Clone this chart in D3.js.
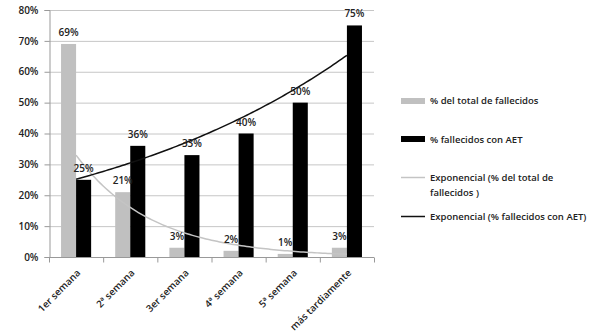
<!DOCTYPE html>
<html><head><meta charset="utf-8">
<script src="https://cdn.jsdelivr.net/npm/d3@7"></script>
<style>body{margin:0;background:#fff}svg{display:block}text{font-family:"Open Sans",Arial,sans-serif}</style>
</head><body>
<svg id="c" width="600" height="332"></svg>
<script>
const categories = ["1er semana","2ª semana","3er semana","4ª semana","5ª semana","más tardiamente"];
const totalFallecidos = [69,21,3,2,1,3];
const fallecidosAET = [25,36,33,40,50,75];
const yTicks = [0,10,20,30,40,50,60,70,80];
const legendLabels = ["% del total de fallecidos","% fallecidos con AET",["Exponencial (% del total de","fallecidos )"],"Exponencial (% fallecidos con AET)"];

const svg = d3.select("#c");
const x0 = 49, x1 = 374, yTop = 10, yBot = 257;
const x = d3.scaleBand().domain(categories).range([x0,x1]).paddingInner(0).paddingOuter(0);
const y = d3.scaleLinear().domain([0,80]).range([yBot,yTop]);
const sub = d3.scaleBand().domain([0,1]).range([0,x.bandwidth()]).paddingInner(0).paddingOuter(0.8);

// grid
svg.append("g").selectAll("line").data(yTicks.slice(1)).join("line")
  .attr("x1",x0).attr("x2",x1).attr("y1",d=>y(d)+0.5).attr("y2",d=>y(d)+0.5)
  .attr("stroke","#c6c6c6").attr("stroke-width",1);

// y axis
const ya = svg.append("g").attr("transform",`translate(${x0+0.5},0)`)
  .call(d3.axisLeft(y).tickValues(yTicks).tickFormat(d=>d+"%").tickSize(5).tickPadding(6));
ya.select(".domain").attr("stroke","#999");
ya.selectAll(".tick line").attr("stroke","#999");
ya.selectAll("text").attr("font-size",10).attr("font-weight",600).attr("fill","#222");

// bars
const g = svg.append("g");
const seriesList = [{vals:totalFallecidos,color:"#c0c0c0",i:0},{vals:fallecidosAET,color:"#000",i:1}];
seriesList.forEach(s=>{
  g.append("g").selectAll("rect").data(categories).join("rect")
    .attr("x",(c)=>x(c)+sub(s.i)).attr("width",sub.bandwidth())
    .attr("y",(c,k)=>y(s.vals[k])).attr("height",(c,k)=>yBot-y(s.vals[k]))
    .attr("fill",s.color);
});

// x axis
const xa = svg.append("g").attr("transform",`translate(0,${yBot+0.5})`);
xa.append("line").attr("x1",x0).attr("x2",x1).attr("stroke","#999");
xa.selectAll("line.t").data(d3.range(categories.length+1)).join("line").attr("class","t")
  .attr("x1",k=>x0+k*x.bandwidth()+0.5).attr("x2",k=>x0+k*x.bandwidth()+0.5).attr("y1",0).attr("y2",5).attr("stroke","#999");
xa.selectAll("text").data(categories).join("text")
  .attr("transform",c=>`translate(${x(c)+x.bandwidth()/2+5},${16}) rotate(-45)`)
  .attr("text-anchor","end").attr("font-size",9.8).attr("font-weight",600).attr("fill","#222")
  .text(c=>c);

// exponential trend lines (least squares fit on ln y)
function expFit(vals){
  const n=vals.length, xs=d3.range(1,n+1), ls=vals.map(Math.log);
  const mx=d3.mean(xs), ml=d3.mean(ls);
  const b=d3.sum(xs,(xv,i)=>(xv-mx)*(ls[i]-ml))/d3.sum(xs,xv=>(xv-mx)**2);
  const a=ml-b*mx;
  return t=>Math.exp(a+b*t);
}
const xc = t => x0 + (t-0.5)*x.bandwidth();
[{vals:totalFallecidos,color:"#c4c4c4"},{vals:fallecidosAET,color:"#111"}].forEach(s=>{
  const f=expFit(s.vals);
  const pts=d3.range(1,6.001,0.05).map(t=>[xc(t),y(f(t))]);
  svg.append("path").attr("d",d3.line()(pts)).attr("fill","none").attr("stroke",s.color).attr("stroke-width",1.5);
});

// data labels
seriesList.forEach(s=>{
  svg.append("g").selectAll("text").data(categories).join("text")
    .attr("x",c=>x(c)+sub(s.i)+sub.bandwidth()/2).attr("y",(c,k)=>y(s.vals[k])-8)
    .attr("text-anchor","middle").attr("font-size",10).attr("font-weight",600).attr("fill","#222")
    .text((c,k)=>s.vals[k]+"%");
});

// legend
const lg = svg.append("g");
const lx = 401, tx = 430;
lg.append("rect").attr("x",lx).attr("y",98).attr("width",24).attr("height",6).attr("fill","#c0c0c0");
lg.append("rect").attr("x",lx).attr("y",136).attr("width",24).attr("height",6).attr("fill","#000");
lg.append("line").attr("x1",lx).attr("x2",lx+24).attr("y1",177.5).attr("y2",177.5).attr("stroke","#c4c4c4").attr("stroke-width",1.5);
lg.append("line").attr("x1",lx).attr("x2",lx+24).attr("y1",216.5).attr("y2",216.5).attr("stroke","#111").attr("stroke-width",1.5);
const ly=[104,143,181,220];
legendLabels.forEach((l,i)=>{
  const t=lg.append("text").attr("x",tx).attr("y",ly[i]).attr("font-size",9.5).attr("font-weight",600).attr("fill","#222");
  if(Array.isArray(l)){
    l.forEach((s,j)=>t.append("tspan").attr("x",tx).attr("dy",j?15:0).text(s));
  } else t.text(l);
});
</script>
</body></html>
